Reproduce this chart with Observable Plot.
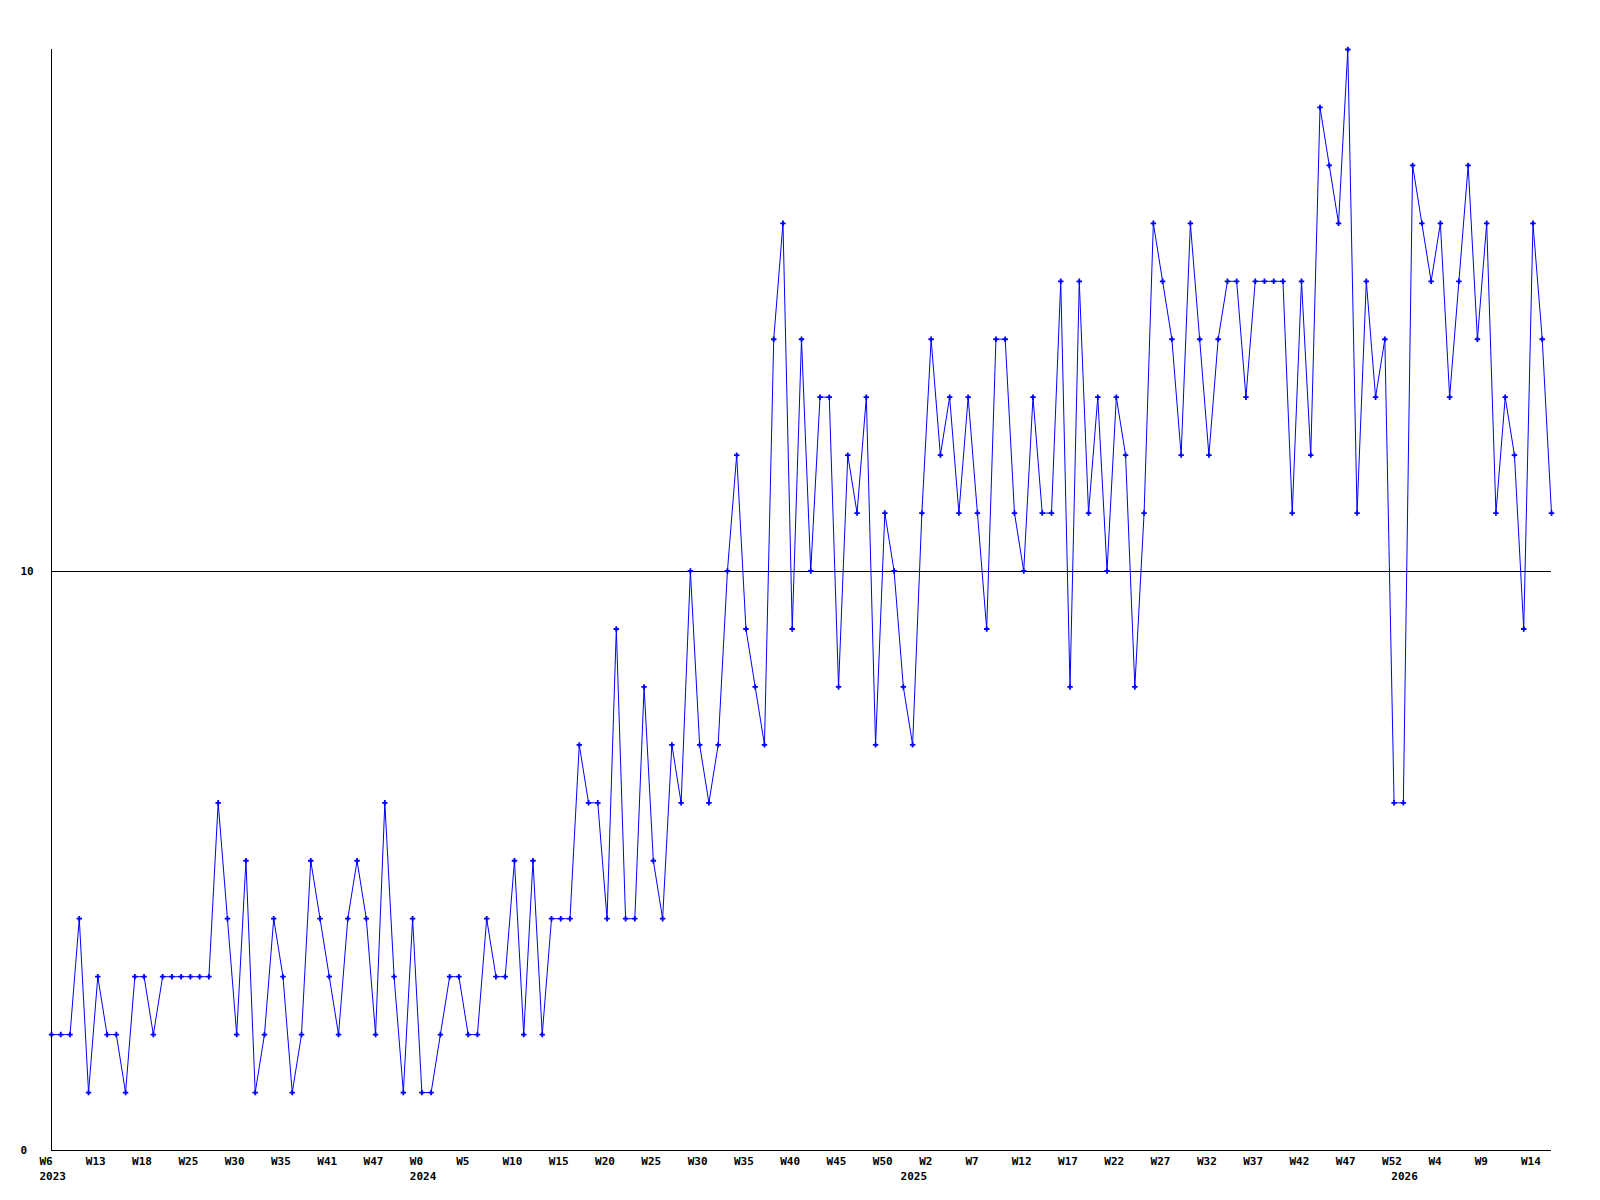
<!DOCTYPE html>
<html>
<head>
<meta charset="utf-8">
<script src="https://cdn.jsdelivr.net/npm/d3@7"></script>
<script src="https://cdn.jsdelivr.net/npm/@observablehq/plot@0.6"></script>
<style>
  html, body { margin: 0; padding: 0; background: #ffffff; }
  #chart svg { display: block; }
</style>
</head>
<body>
<div id="chart"></div>
<script>
// Weekly values, one per point (index 0 = 2023 W6)
const values = [
  2,2,2,4,1,3,2,2,1,3,3,2,3,3,3,3,3,3,6,4,2,5,1,2,4,3,1,2,5,4,3,2,
  4,5,4,2,6,3,1,4,1,1,2,3,3,2,2,4,3,3,5,2,5,2,4,4,4,7,6,6,4,9,4,
  4,8,5,4,7,6,10,7,6,7,10,12,9,8,7,14,16,9,14,10,13,13,8,12,11,13,7,
  11,10,8,7,11,14,12,13,11,13,11,9,14,14,11,10,13,11,11,15,8,15,11,13,
  10,13,12,8,11,16,15,14,12,16,14,12,14,15,15,13,15,15,15,15,11,15,12,
  18,17,16,19,11,15,13,14,6,6,17,16,15,16,13,15,17,14,16,11,13,12,9,16,14,11
];

// Week tick labels, one every 5 points
const weekLabels = [
  "W6","W13","W18","W25","W30","W35","W41","W47",
  "W0","W5","W10","W15","W20","W25","W30","W35","W40","W45","W50",
  "W2","W7","W12","W17","W22","W27","W32","W37","W42","W47","W52",
  "W4","W9","W14"
];
const weekTickIndex = weekLabels.map((_, i) => i * 5);

// Year labels and the point index where each year starts
const years = ["2023", "2024", "2025", "2026"];
const yearIndex = [0, 40, 93, 146];

const yTicks = [0, 10];
const refLine = [10];

const data = values.map((v, i) => ({i, v}));

const font = "'DejaVu Sans Mono', 'Liberation Mono', monospace";

const chart = Plot.plot({
  width: 1600,
  height: 1200,
  marginLeft: 51,
  marginRight: 49,
  marginTop: 49,
  marginBottom: 50,
  style: {background: "#ffffff", fontFamily: font, fontSize: "11px", fontWeight: "bold", color: "#000"},
  x: {domain: [0, values.length - 1], axis: null},
  y: {domain: [0, 19], axis: null},
  marks: [
    Plot.ruleY(refLine, {stroke: "#000", strokeWidth: 1, shapeRendering: "crispEdges"}),
    Plot.line(data, {x: "i", y: "v", stroke: "#0000ff", strokeWidth: 1}),
    Plot.dot(data, {x: "i", y: "v", symbol: "cross", r: 2.3, fill: "#0000ff", stroke: "none"}),
    Plot.ruleX([0], {stroke: "#000", strokeWidth: 1, shapeRendering: "crispEdges"}),
    Plot.ruleY([0], {stroke: "#000", strokeWidth: 1, shapeRendering: "crispEdges"}),
    Plot.axisX(weekTickIndex, {
      label: null,
      tickSize: 0, tickPadding: 7, textAnchor: "start", dx: -12,
      tickFormat: (d) => weekLabels[d / 5],
      fontFamily: font, fontSize: 11, fontWeight: "bold", fill: "#000"
    }),
    Plot.axisX(yearIndex, {
      label: null,
      tickSize: 0, tickPadding: 22, textAnchor: "start", dx: -12,
      tickFormat: (d) => years[yearIndex.indexOf(d)],
      fontFamily: font, fontSize: 11, fontWeight: "bold", fill: "#000"
    }),
    Plot.axisY(yTicks, {
      label: null,
      tickSize: 0, tickPadding: 0, textAnchor: "start", dx: -31,
      tickFormat: (d) => String(d),
      fontFamily: font, fontSize: 11, fontWeight: "bold", fill: "#000"
    })
  ]
});

document.getElementById("chart").appendChild(chart);
</script>
</body>
</html>
